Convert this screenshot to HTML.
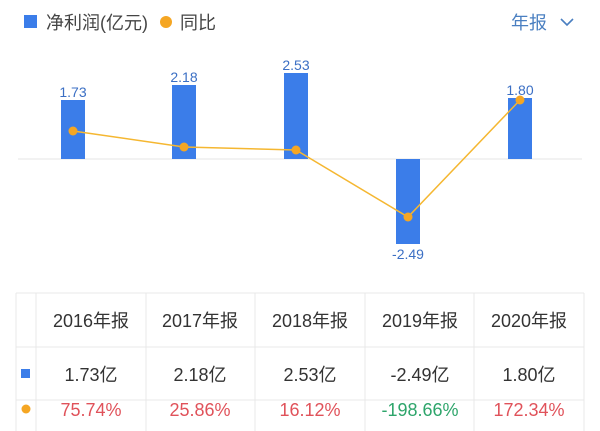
<!DOCTYPE html>
<html><head><meta charset="utf-8"><style>
body{margin:0;width:600px;height:431px;background:#fff;overflow:hidden;font-family:"Liberation Sans","Noto Sans CJK SC",sans-serif;}
svg{position:absolute;left:0;top:0}
</style></head><body>
<svg width="600" height="431" xmlns="http://www.w3.org/2000/svg" font-family="Liberation Sans, Noto Sans CJK SC, sans-serif">
<rect x="24" y="15" width="13" height="13" fill="#3b7de9"/>
<text x="46" y="29" font-size="18" fill="#444">净利润(亿元)</text>
<circle cx="166" cy="22" r="6" fill="#f5a623"/>
<text x="180" y="29" font-size="18" fill="#444">同比</text>
<text x="511" y="29" font-size="18" fill="#4a7fc1">年报</text>
<path d="M561 19 L567 25 L573 19" stroke="#4a7fc1" stroke-width="1.6" fill="none"/>
<line x1="18" y1="159" x2="582" y2="159" stroke="#e6e6e6" stroke-width="1"/>
<g fill="#3b7de9">
<rect x="61" y="100" width="24" height="59"/>
<rect x="172" y="85" width="24" height="74"/>
<rect x="284" y="73" width="24" height="86"/>
<rect x="396" y="159" width="24" height="85"/>
<rect x="508" y="98" width="24" height="61"/>
</g>
<g font-size="14" fill="#3b6fc4" text-anchor="middle">
<text x="73" y="97">1.73</text>
<text x="184" y="82">2.18</text>
<text x="296" y="70">2.53</text>
<text x="408" y="259">-2.49</text>
<text x="520" y="95">1.80</text>
</g>
<polyline points="73,131 184,147 296,150 408,217 520,100" fill="none" stroke="#f5b731" stroke-width="1.5"/>
<g fill="#f5a623">
<circle cx="73" cy="131" r="4.5"/><circle cx="184" cy="147" r="4.5"/><circle cx="296" cy="150" r="4.5"/><circle cx="408" cy="217" r="4.5"/><circle cx="520" cy="100" r="4.5"/>
</g>
<g stroke="#e8e8e8" stroke-width="1">
<line x1="16" y1="293" x2="584" y2="293"/>
<line x1="16" y1="347" x2="584" y2="347"/>
<line x1="16" y1="400" x2="584" y2="400"/>
<line x1="16" y1="293" x2="16" y2="431"/>
<line x1="36" y1="293" x2="36" y2="431"/>
<line x1="146" y1="293" x2="146" y2="431"/>
<line x1="255" y1="293" x2="255" y2="431"/>
<line x1="365" y1="293" x2="365" y2="431"/>
<line x1="474" y1="293" x2="474" y2="431"/>
<line x1="584" y1="293" x2="584" y2="431"/>
</g>
<g font-size="18" fill="#333" text-anchor="middle">
<text x="91" y="327">2016年报</text>
<text x="200" y="327">2017年报</text>
<text x="310" y="327">2018年报</text>
<text x="420" y="327">2019年报</text>
<text x="529" y="327">2020年报</text>
<text x="91" y="381">1.73亿</text>
<text x="200" y="381">2.18亿</text>
<text x="310" y="381">2.53亿</text>
<text x="420" y="381">-2.49亿</text>
<text x="529" y="381">1.80亿</text>
</g>
<rect x="21" y="369" width="9" height="9" fill="#3b7de9"/>
<circle cx="26" cy="409" r="4.5" fill="#f5a623"/>
<g font-size="18" text-anchor="middle">
<text x="91" y="416" fill="#e0525a">75.74%</text>
<text x="200" y="416" fill="#e0525a">25.86%</text>
<text x="310" y="416" fill="#e0525a">16.12%</text>
<text x="420" y="416" fill="#2ea56b">-198.66%</text>
<text x="529" y="416" fill="#e0525a">172.34%</text>
</g>
</svg>
</body></html>
